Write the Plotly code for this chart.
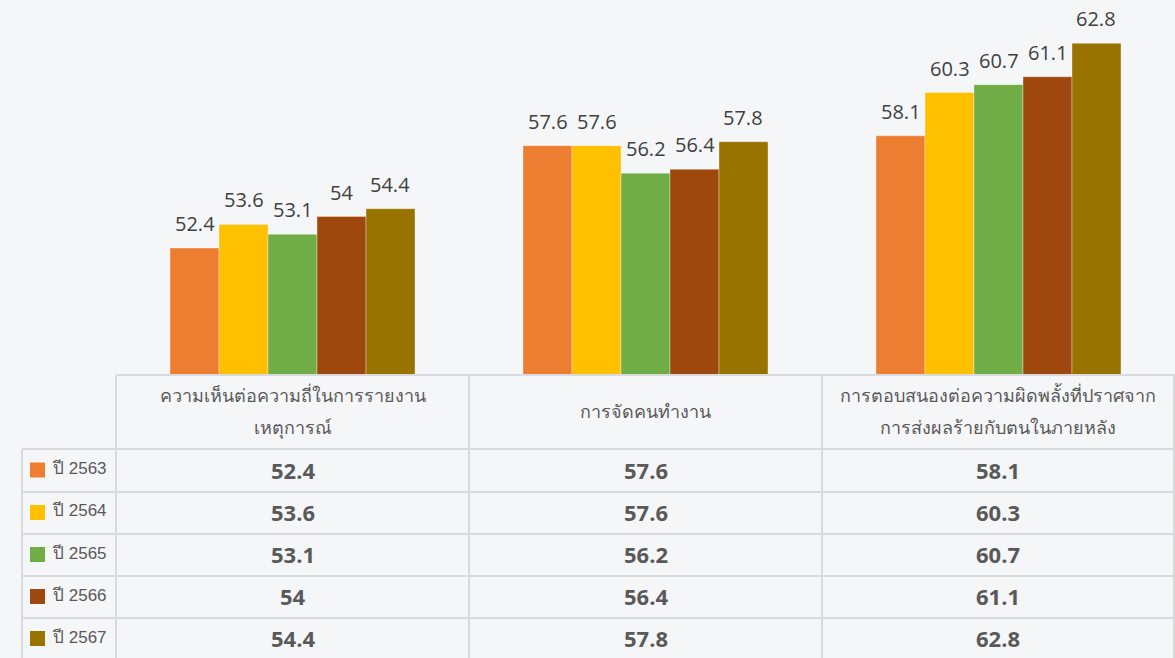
import plotly.graph_objects as go

W, H = 1175, 658

categories = ["ความเห็นต่อความถี่ในการรายงาน<br>เหตุการณ์",
              "การจัดคนทำงาน",
              "การตอบสนองต่อความผิดพลั้งที่ปราศจาก<br>การส่งผลร้ายกับตนในภายหลัง"]
series_names = ["ปี 2563", "ปี 2564", "ปี 2565", "ปี 2566", "ปี 2567"]
y2563 = [52.4, 57.6, 58.1]
y2564 = [53.6, 57.6, 60.3]
y2565 = [53.1, 56.2, 60.7]
y2566 = [54, 56.4, 61.1]
y2567 = [54.4, 57.8, 62.8]
series_values = [y2563, y2564, y2565, y2566, y2567]
colors = ["#ED7D31", "#FFC000", "#70AD47", "#9E480E", "#997300"]

BG = "#F5F6F8"
GRID = "#D9DADD"
TXT = "#595959"

# layout geometry in pixels
plot_left, plot_bottom = 116, 374
col_edges = [116, 469, 822, 1174]
row_edges = [449, 492, 534, 576, 618, 660]
BARGAP = 0.306
n_series = len(series_names)
bar_w = (1 - BARGAP) / n_series


def px(x):
    return x / W


def py(y):
    return 1 - y / H


fig = go.Figure()
annotations = []
for k, (name, vals, c) in enumerate(zip(series_names, series_values, colors)):
    fig.add_trace(go.Bar(
        x=list(range(len(categories))), y=vals, name=name,
        marker=dict(color=c, line=dict(color="rgba(255,255,255,0.35)", width=1)),
        hoverinfo="skip",
    ))
    for i, v in enumerate(vals):
        annotations.append(dict(
            xref="x", yref="y", x=i + (k - (n_series - 1) / 2) * bar_w, y=v,
            text=f"{v:g}", showarrow=False, xanchor="center", yanchor="bottom",
            yshift=9,
            font=dict(family="Open Sans, sans-serif", size=20, color="#404040")))

shapes = []
# horizontal lines
shapes.append(dict(type="line", xref="paper", yref="paper", x0=px(116), x1=px(1175),
                   y0=py(375), y1=py(375), line=dict(color=GRID, width=2)))
for ry in row_edges[:-1]:
    shapes.append(dict(type="line", xref="paper", yref="paper", x0=px(22), x1=px(1175),
                       y0=py(ry), y1=py(ry), line=dict(color=GRID, width=2)))
# vertical lines
shapes.append(dict(type="line", xref="paper", yref="paper", x0=px(22), x1=px(22),
                   y0=py(449), y1=py(658), line=dict(color=GRID, width=2)))
for cx in col_edges:
    shapes.append(dict(type="line", xref="paper", yref="paper", x0=px(cx), x1=px(cx),
                       y0=py(375), y1=py(658), line=dict(color=GRID, width=2)))

# header labels (each line placed separately for Excel-like line spacing)
for i, cat in enumerate(categories):
    cx = (col_edges[i] + col_edges[i + 1]) / 2
    lines = cat.split("<br>")
    n = len(lines)
    for j, line in enumerate(lines):
        ly = 411 + (j - (n - 1) / 2) * 32
        annotations.append(dict(xref="paper", yref="paper", x=px(cx), y=py(ly),
                                text=line, showarrow=False, xanchor="center", yanchor="middle",
                                font=dict(family="Noto Sans, sans-serif", size=18, color=TXT)))

# rows
for r, (name, vals, c) in enumerate(zip(series_names, series_values, colors)):
    yc = (row_edges[r] + row_edges[r + 1]) / 2
    shapes.append(dict(type="rect", xref="paper", yref="paper", x0=px(30), x1=px(45),
                       y0=py(yc - 8), y1=py(yc + 7), fillcolor=c, line=dict(width=0)))
    annotations.append(dict(xref="paper", yref="paper", x=px(50), y=py(yc - 2),
                            text=name, showarrow=False, xanchor="left", yanchor="middle",
                            font=dict(family="Liberation Sans, Arial, sans-serif", size=17, color=TXT)))
    for i, v in enumerate(vals):
        cx = (col_edges[i] + col_edges[i + 1]) / 2
        annotations.append(dict(xref="paper", yref="paper", x=px(cx), y=py(yc - 1),
                                text=f"<b>{v:g}</b>", showarrow=False, xanchor="center",
                                yanchor="middle",
                                font=dict(family="Open Sans, sans-serif", size=22, color=TXT)))

fig.update_layout(
    width=W, height=H, margin=dict(l=0, r=0, t=0, b=0),
    paper_bgcolor=BG, plot_bgcolor=BG,
    barmode="group", bargap=BARGAP, bargroupgap=0,
    showlegend=False,
    xaxis=dict(domain=[px(plot_left), 1], range=[-0.5, 2.5], showticklabels=False,
               showgrid=False, zeroline=False, showline=False, ticks=""),
    yaxis=dict(domain=[py(plot_bottom), 1], range=[46, 65], showticklabels=False,
               showgrid=False, zeroline=False, showline=False, ticks=""),
    shapes=shapes, annotations=annotations,
)

fig.write_html("out.html",
               config={"displayModeBar": False},
               post_script="document.body.style.margin='0';"
                           "document.body.style.background='#F5F6F8';")
